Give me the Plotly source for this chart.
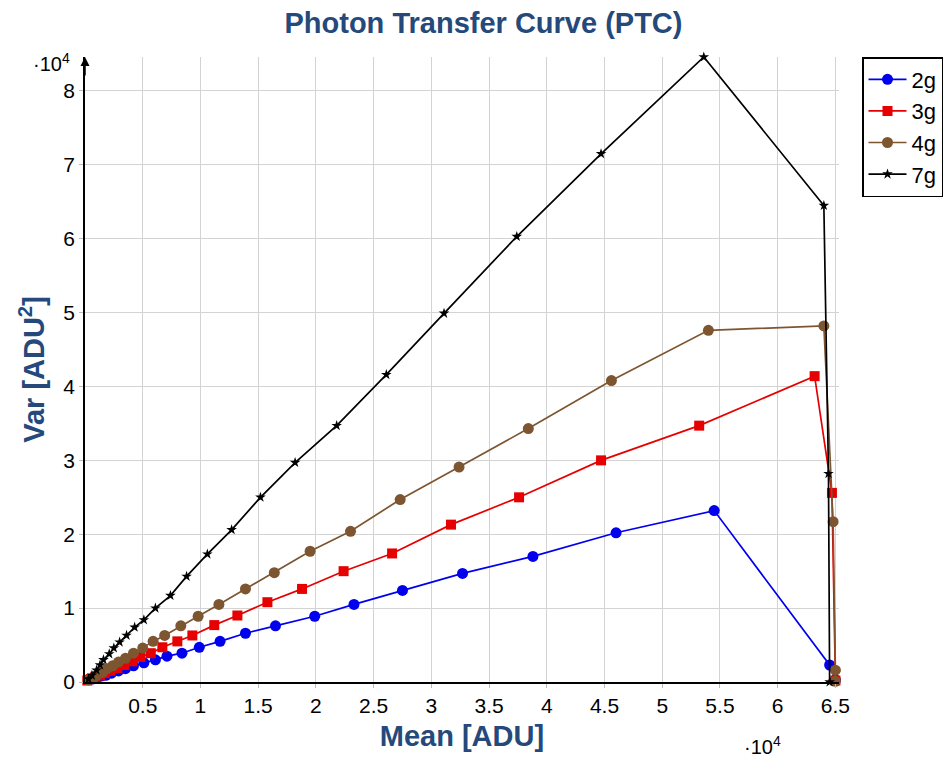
import plotly.graph_objects as go

# Values in units of 1e4 ADU (mean) and 1e4 ADU^2 (variance)
mean_2g = [0.03, 0.06, 0.10, 0.14, 0.18, 0.23, 0.29, 0.35, 0.42, 0.51, 0.61, 0.71, 0.84, 0.99,
           1.17, 1.39, 1.65, 1.99, 2.33, 2.75, 3.27, 3.88, 4.60, 5.45, 6.45, 6.50]
var_2g = [0.03, 0.04, 0.05, 0.08, 0.09, 0.12, 0.15, 0.18, 0.22, 0.26, 0.30, 0.35, 0.39, 0.47,
          0.55, 0.66, 0.76, 0.89, 1.05, 1.24, 1.47, 1.70, 2.02, 2.32, 0.23, 0.03]

mean_3g = [0.02, 0.05, 0.09, 0.13, 0.17, 0.22, 0.28, 0.34, 0.41, 0.48, 0.57, 0.67, 0.80, 0.93,
           1.12, 1.32, 1.58, 1.88, 2.24, 2.66, 3.17, 3.76, 4.47, 5.32, 6.32, 6.47, 6.50]
var_3g = [0.02, 0.04, 0.07, 0.09, 0.12, 0.15, 0.19, 0.23, 0.28, 0.34, 0.39, 0.47, 0.55, 0.63,
          0.77, 0.90, 1.08, 1.26, 1.50, 1.74, 2.13, 2.50, 3.00, 3.47, 4.14, 2.56, 0.02]

mean_4g = [0.03, 0.07, 0.10, 0.15, 0.19, 0.24, 0.29, 0.35, 0.42, 0.50, 0.59, 0.69, 0.83, 0.98,
           1.16, 1.39, 1.64, 1.95, 2.30, 2.73, 3.24, 3.84, 4.56, 5.40, 6.40, 6.48, 6.50, 6.50]
var_4g = [0.03, 0.05, 0.09, 0.13, 0.18, 0.22, 0.27, 0.32, 0.39, 0.46, 0.55, 0.63, 0.76, 0.89,
          1.05, 1.26, 1.48, 1.77, 2.04, 2.47, 2.91, 3.43, 4.08, 4.76, 4.82, 2.17, 0.16, 0.01]

mean_7g = [0.03, 0.06, 0.10, 0.13, 0.16, 0.21, 0.25, 0.30, 0.36, 0.43, 0.51, 0.61, 0.74, 0.88,
           1.06, 1.27, 1.52, 1.82, 2.18, 2.61, 3.11, 3.74, 4.47, 5.36, 6.40, 6.44, 6.45]
var_7g = [0.04, 0.09, 0.16, 0.23, 0.30, 0.38, 0.46, 0.54, 0.63, 0.74, 0.84, 1.00, 1.17, 1.43,
          1.73, 2.06, 2.50, 2.97, 3.47, 4.16, 4.99, 6.03, 7.15, 8.46, 6.45, 2.82, 0.00]

SCALE = 1e4
x_tick_vals = [0.5, 1, 1.5, 2, 2.5, 3, 3.5, 4, 4.5, 5, 5.5, 6, 6.5]
x_tick_text = ["0.5", "1", "1.5", "2", "2.5", "3", "3.5", "4", "4.5", "5", "5.5", "6", "6.5"]
y_tick_vals = [0, 1, 2, 3, 4, 5, 6, 7, 8]
y_tick_text = ["0", "1", "2", "3", "4", "5", "6", "7", "8"]

series = [
    ("2g", mean_2g, var_2g, "#0000ee", "circle", 11),
    ("3g", mean_3g, var_3g, "#e60000", "square", 10),
    ("4g", mean_4g, var_4g, "#7d5530", "circle", 11),
    ("7g", mean_7g, var_7g, "#000000", "star", 8),
]

fig = go.Figure()
for name, xs, ys, col, sym, sz in series:
    fig.add_trace(go.Scatter(
        x=[v * SCALE for v in xs], y=[v * SCALE for v in ys], name=name,
        mode="lines+markers", line=dict(color=col, width=1.7),
        marker=dict(symbol=sym, size=sz, color=col, line=dict(width=0)),
        cliponaxis=False,
    ))

TITLE_BLUE = "#24497a"
fig.update_layout(
    width=948, height=759,
    margin=dict(l=85, r=108, t=57, b=75),
    paper_bgcolor="white", plot_bgcolor="white",
    font=dict(family="Liberation Sans, Arial, sans-serif", size=21, color="black"),
    title=dict(text="<b>Photon Transfer Curve (PTC)</b>", x=0.51, xanchor="center",
               y=1 - 23 / 759, yanchor="middle",
               font=dict(size=29, color=TITLE_BLUE)),
    showlegend=True,
    legend=dict(xref="container", yref="container", x=862 / 948, y=1 - 57 / 759,
                xanchor="left", yanchor="top",
                bordercolor="black", borderwidth=1.5, bgcolor="white",
                font=dict(size=22), itemwidth=38, tracegroupgap=0),
    xaxis=dict(range=[0, 6.53 * SCALE], tickvals=[v * SCALE for v in x_tick_vals],
               ticktext=x_tick_text, showgrid=True, gridcolor="#d3d3d3", gridwidth=1,
               zeroline=False, showline=True, linecolor="black", linewidth=1.5,
               ticks="outside", ticklen=4, tickcolor="#bbbbbb",
               title=dict(text="<b>Mean [ADU]</b>", font=dict(size=29, color=TITLE_BLUE),
                          standoff=10)),
    yaxis=dict(range=[0, 8.46 * SCALE], tickvals=[v * SCALE for v in y_tick_vals],
               ticktext=y_tick_text, showgrid=True, gridcolor="#d3d3d3", gridwidth=1,
               zeroline=False, showline=True, linecolor="black", linewidth=1.5,
               ticks="outside", ticklen=4, tickcolor="#bbbbbb",
               title=dict(text="<b>Var [ADU<sup>2</sup>]</b>", font=dict(size=29, color=TITLE_BLUE),
                          standoff=10)),
)

# arrow on the top of the y axis
fig.add_annotation(x=0, y=1.0, xref="paper", yref="paper", ax=0, ay=20, axref="pixel",
                   ayref="pixel", showarrow=True, arrowhead=2, arrowsize=1.2,
                   arrowwidth=1.5, arrowcolor="black", text="")
# scale multipliers
fig.add_annotation(x=-0.017, y=0.992, xref="paper", yref="paper", xanchor="right",
                   yanchor="middle", showarrow=False, text="·10<sup>4</sup>",
                   font=dict(size=20))
fig.add_annotation(x=0.899, y=-0.102, xref="paper", yref="paper", xanchor="center",
                   yanchor="middle", showarrow=False, text="·10<sup>4</sup>",
                   font=dict(size=20))

fig.write_html("out.html", config={"displayModeBar": False},
               post_script="document.body.style.margin='0';")
